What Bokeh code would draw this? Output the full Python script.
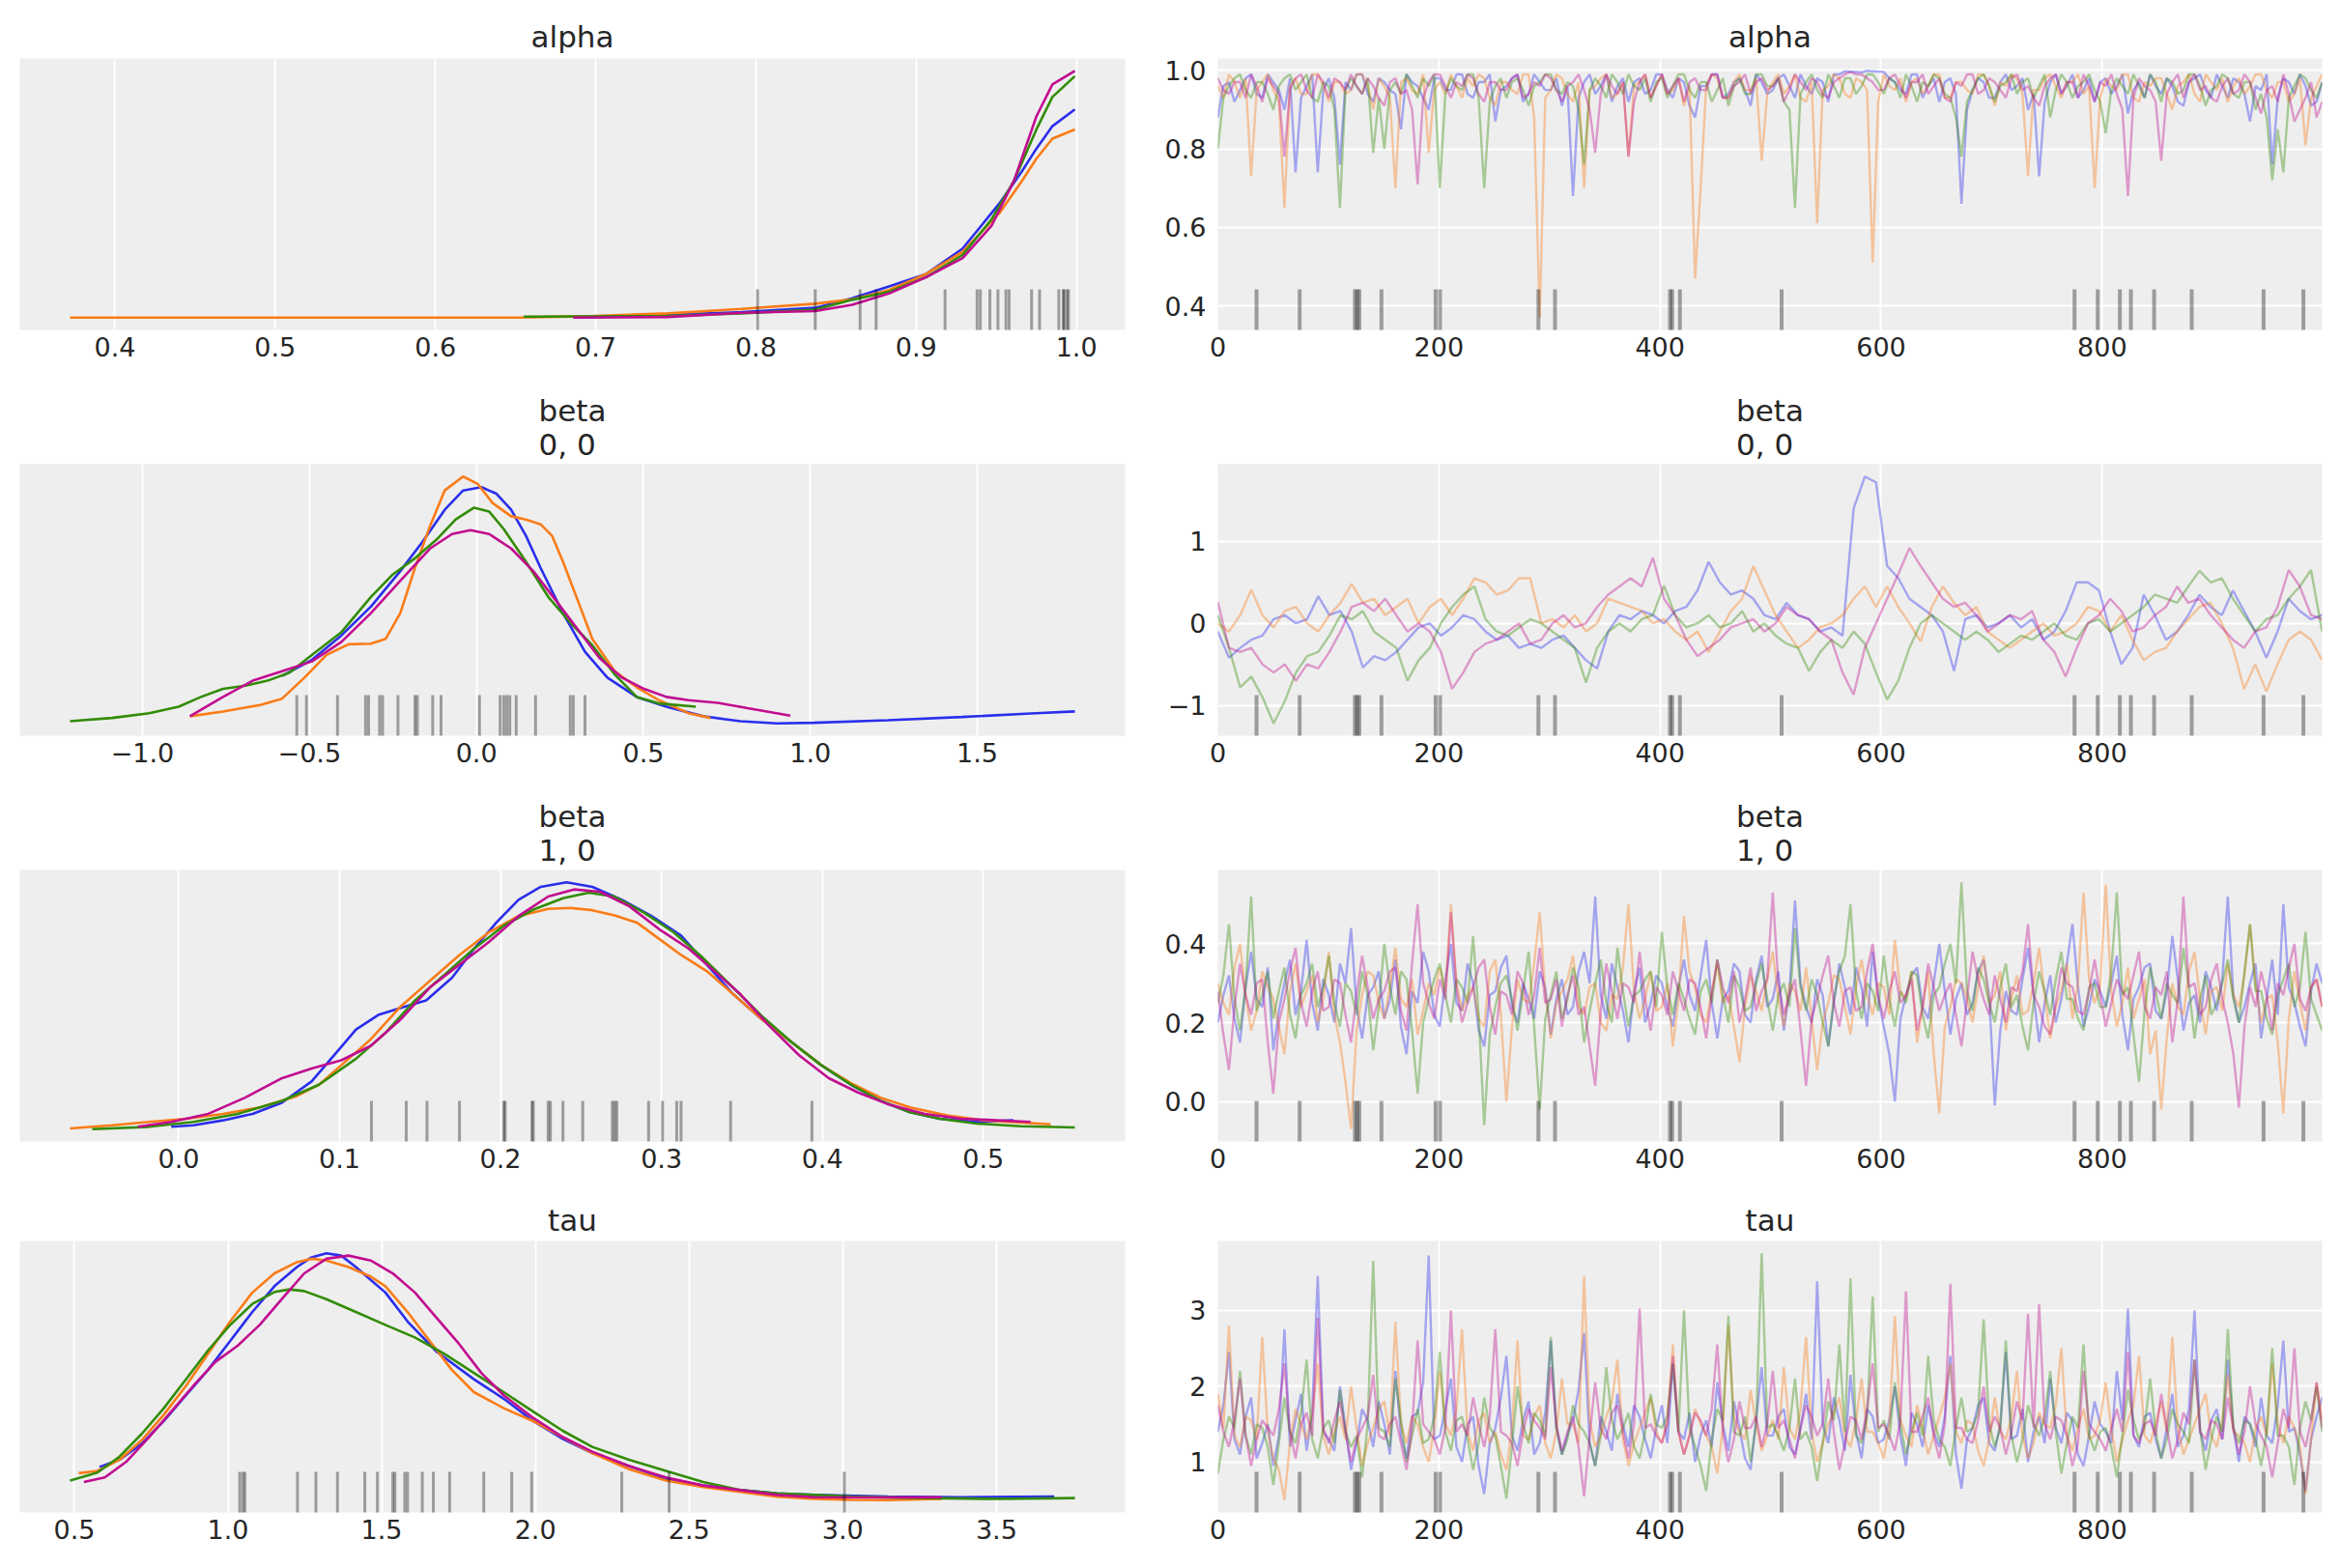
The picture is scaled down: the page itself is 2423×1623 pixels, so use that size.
import numpy as np
from bokeh.plotting import figure
from bokeh.layouts import gridplot
from bokeh.models import Range1d, FixedTicker, Title
from bokeh.embed import file_html
from bokeh.resources import INLINE

# ---------------------------------------------------------------- data ----
chain_colors = ["#2a2eec", "#fa7c17", "#328c06", "#c10c90"]
n_draws = 1000

# draws flagged as divergent (shown as a rug under every trace)
divergent_draws = [35, 74, 124, 126, 128, 148, 197, 201, 290, 305, 409, 411,
                   418, 510, 775, 796, 816, 826, 847, 881, 946, 982]

# --- alpha: per-chain KDE (x, density), divergent sample values, trace
alpha_kde_x = [
    [0.690, 0.791, 0.837, 0.860, 0.883, 0.906, 0.929, 0.952, 0.966, 0.975, 0.985, 0.999],
    [0.372, 0.652, 0.699, 0.745, 0.791, 0.837, 0.860, 0.883, 0.906, 0.929, 0.952, 0.966, 0.975, 0.985, 0.999],
    [0.655, 0.745, 0.791, 0.837, 0.860, 0.883, 0.906, 0.929, 0.947, 0.961, 0.975, 0.985, 0.999],
    [0.686, 0.745, 0.791, 0.837, 0.860, 0.883, 0.906, 0.929, 0.947, 0.961, 0.975, 0.985, 0.999],
]
alpha_kde_d = [
    [0.0, 0.35, 0.63, 1.25, 2.02, 2.82, 4.48, 7.41, 9.49, 10.95, 12.41, 13.5],
    [0.0, 0.0, 0.10, 0.27, 0.56, 0.90, 1.18, 1.78, 2.82, 4.27, 6.78, 8.86, 10.3, 11.6, 12.2],
    [0.06, 0.10, 0.27, 0.52, 1.15, 1.67, 2.61, 4.07, 6.36, 8.87, 12.2, 14.3, 15.65],
    [0.0, 0.04, 0.31, 0.42, 0.83, 1.56, 2.61, 3.86, 5.95, 8.87, 13.04, 15.12, 16.0],
]
alpha_divergent = [0.801, 0.837, 0.865, 0.875, 0.918, 0.938, 0.940, 0.946, 0.951,
                   0.956, 0.958, 0.972, 0.977, 0.989, 0.992, 0.992, 0.994, 0.995]
alpha_trace = [
    [0.88, 0.96, 0.97, 0.92, 0.95, 0.98, 0.99, 0.94, 0.93, 0.99, 0.97, 0.95, 0.90, 0.98, 0.74, 0.93, 0.96, 0.99, 0.74, 0.95,
     0.98, 0.93, 0.76, 0.97, 0.95, 0.99, 0.99, 0.94, 0.92, 0.98, 0.97, 0.95, 0.94, 0.85, 0.99, 0.97, 0.96, 0.93, 0.90, 0.98,
     0.98, 0.95, 0.95, 0.99, 0.99, 0.94, 0.93, 0.97, 0.97, 0.99, 0.87, 0.95, 0.96, 0.98, 0.99, 0.92, 0.94, 0.99, 0.97, 0.95,
     0.95, 0.98, 0.91, 0.96, 0.68, 0.93, 0.97, 0.99, 0.94, 0.96, 0.99, 0.92, 0.96, 0.98, 0.92, 0.97, 0.98, 0.94, 0.95, 0.99,
     0.99, 0.95, 0.93, 0.98, 0.97, 0.91, 0.88, 0.96, 0.96, 0.99, 0.99, 0.93, 0.94, 0.97, 0.98, 0.95, 0.91, 0.99, 0.97, 0.94,
     0.95, 0.98, 0.99, 0.96, 0.93, 0.99, 0.96, 0.94, 0.98, 0.97, 0.92, 0.99, 0.99, 0.998, 0.997, 0.996, 0.995, 0.999, 0.998, 0.997,
     0.996, 0.98, 0.97, 0.95, 0.94, 0.99, 0.99, 0.93, 0.96, 0.98, 0.92, 0.97, 0.98, 0.94, 0.66, 0.90, 0.95, 0.98, 0.97, 0.93,
     0.93, 0.97, 0.99, 0.95, 0.96, 0.98, 0.90, 0.94, 0.73, 0.92, 0.97, 0.99, 0.94, 0.96, 0.99, 0.93, 0.95, 0.98, 0.92, 0.97,
     0.98, 0.94, 0.96, 0.99, 0.89, 0.95, 0.97, 0.93, 0.99, 0.96, 0.94, 0.98, 0.96, 0.92, 0.91, 0.97, 0.98, 0.99, 0.95, 0.93,
     0.99, 0.96, 0.93, 0.98, 0.97, 0.94, 0.87, 0.96, 0.95, 0.99, 0.76, 0.93, 0.98, 0.97, 0.94, 0.99, 0.96, 0.91, 0.92, 0.97],
    [0.96, 0.93, 0.99, 0.97, 0.93, 0.98, 0.73, 0.95, 0.97, 0.99, 0.95, 0.92, 0.65, 0.96, 0.98, 0.94, 0.94, 0.99, 0.99, 0.96,
     0.92, 0.97, 0.97, 0.94, 0.95, 0.99, 0.99, 0.96, 0.90, 0.98, 0.96, 0.93, 0.70, 0.97, 0.98, 0.95, 0.94, 0.99, 0.79, 0.95,
     0.97, 0.94, 0.99, 0.96, 0.93, 0.98, 0.96, 0.99, 0.98, 0.93, 0.91, 0.97, 0.97, 0.95, 0.94, 0.99, 0.99, 0.88, 0.37, 0.93,
     0.95, 0.99, 0.98, 0.94, 0.92, 0.97, 0.70, 0.95, 0.96, 0.98, 0.99, 0.93, 0.94, 0.97, 0.78, 0.96, 0.97, 0.99, 0.93, 0.96,
     0.99, 0.94, 0.95, 0.98, 0.91, 0.96, 0.47, 0.70, 0.96, 0.99, 0.98, 0.93, 0.93, 0.97, 0.99, 0.95, 0.95, 0.98, 0.77, 0.94,
     0.97, 0.99, 0.94, 0.96, 0.99, 0.93, 0.92, 0.97, 0.61, 0.95, 0.96, 0.99, 0.98, 0.94, 0.93, 0.98, 0.97, 0.95, 0.51, 0.92,
     0.99, 0.96, 0.95, 0.98, 0.92, 0.97, 0.98, 0.94, 0.96, 0.99, 0.99, 0.93, 0.93, 0.97, 0.97, 0.95, 0.94, 0.99, 0.99, 0.96,
     0.91, 0.97, 0.96, 0.99, 0.98, 0.94, 0.73, 0.95, 0.95, 0.98, 0.99, 0.96, 0.93, 0.97, 0.97, 0.99, 0.94, 0.96, 0.70, 0.93,
     0.98, 0.96, 0.95, 0.99, 0.99, 0.93, 0.92, 0.97, 0.96, 0.98, 0.98, 0.94, 0.90, 0.96, 0.97, 0.99, 0.94, 0.92, 0.99, 0.97,
     0.95, 0.98, 0.92, 0.96, 0.98, 0.94, 0.96, 0.99, 0.99, 0.95, 0.93, 0.97, 0.97, 0.92, 0.94, 0.98, 0.81, 0.93, 0.96, 0.99],
    [0.80, 0.93, 0.96, 0.98, 0.99, 0.95, 0.93, 0.97, 0.97, 0.94, 0.90, 0.96, 0.98, 0.99, 0.95, 0.97, 0.99, 0.93, 0.92, 0.97,
     0.96, 0.90, 0.65, 0.95, 0.98, 0.96, 0.94, 0.98, 0.79, 0.93, 0.80, 0.95, 0.97, 0.94, 0.99, 0.96, 0.93, 0.98, 0.96, 0.99,
     0.70, 0.94, 0.98, 0.96, 0.95, 0.99, 0.99, 0.93, 0.70, 0.92, 0.96, 0.98, 0.93, 0.97, 0.98, 0.95, 0.91, 0.96, 0.97, 0.99,
     0.99, 0.95, 0.94, 0.97, 0.96, 0.90, 0.76, 0.95, 0.98, 0.96, 0.93, 0.99, 0.97, 0.94, 0.99, 0.96, 0.95, 0.98, 0.92, 0.97,
     0.98, 0.93, 0.96, 0.99, 0.99, 0.95, 0.93, 0.97, 0.97, 0.92, 0.95, 0.98, 0.91, 0.96, 0.98, 0.94, 0.94, 0.99, 0.99, 0.96,
     0.96, 0.98, 0.92, 0.90, 0.65, 0.94, 0.97, 0.99, 0.95, 0.93, 0.99, 0.96, 0.93, 0.98, 0.98, 0.94, 0.96, 0.99, 0.99, 0.97,
     0.94, 0.98, 0.97, 0.93, 0.99, 0.96, 0.92, 0.97, 0.96, 0.99, 0.98, 0.94, 0.93, 0.88, 0.78, 0.92, 0.95, 0.98, 0.99, 0.96,
     0.92, 0.96, 0.97, 0.99, 0.94, 0.97, 0.98, 0.93, 0.96, 0.99, 0.88, 0.95, 0.99, 0.97, 0.93, 0.96, 0.97, 0.99, 0.95, 0.92,
     0.84, 0.95, 0.98, 0.96, 0.94, 0.99, 0.96, 0.93, 0.99, 0.97, 0.92, 0.98, 0.97, 0.94, 0.95, 0.99, 0.99, 0.96, 0.91, 0.95,
     0.96, 0.99, 0.98, 0.94, 0.93, 0.97, 0.97, 0.90, 0.94, 0.88, 0.72, 0.85, 0.74, 0.93, 0.96, 0.99, 0.98, 0.95, 0.93, 0.97],
    [0.98, 0.95, 0.94, 0.97, 0.97, 0.93, 0.99, 0.96, 0.92, 0.98, 0.96, 0.94, 0.78, 0.95, 0.98, 0.99, 0.95, 0.93, 0.99, 0.97,
     0.93, 0.98, 0.97, 0.95, 0.99, 0.96, 0.94, 0.98, 0.96, 0.93, 0.91, 0.97, 0.98, 0.94, 0.95, 0.90, 0.71, 0.93, 0.97, 0.99,
     0.99, 0.96, 0.93, 0.97, 0.96, 0.99, 0.98, 0.94, 0.92, 0.97, 0.97, 0.95, 0.95, 0.98, 0.99, 0.93, 0.94, 0.97, 0.96, 0.99,
     0.98, 0.95, 0.92, 0.96, 0.97, 0.99, 0.95, 0.90, 0.79, 0.94, 0.99, 0.96, 0.94, 0.97, 0.78, 0.92, 0.97, 0.99, 0.93, 0.96,
     0.99, 0.94, 0.96, 0.98, 0.92, 0.97, 0.98, 0.95, 0.95, 0.99, 0.99, 0.93, 0.93, 0.96, 0.97, 0.99, 0.94, 0.97, 0.98, 0.95,
     0.96, 0.98, 0.92, 0.95, 0.99, 0.97, 0.95, 0.98, 0.97, 0.94, 0.93, 0.97, 0.98, 0.99, 0.996, 0.99, 0.99, 0.98, 0.97, 0.95,
     0.95, 0.98, 0.99, 0.96, 0.93, 0.97, 0.97, 0.99, 0.94, 0.96, 0.98, 0.93, 0.92, 0.97, 0.96, 0.99, 0.99, 0.94, 0.95, 0.98,
     0.97, 0.95, 0.93, 0.98, 0.99, 0.95, 0.96, 0.93, 0.91, 0.96, 0.98, 0.99, 0.94, 0.97, 0.97, 0.93, 0.99, 0.96, 0.92, 0.97,
     0.96, 0.99, 0.94, 0.90, 0.68, 0.93, 0.98, 0.96, 0.95, 0.92, 0.77, 0.94, 0.97, 0.99, 0.93, 0.97, 0.99, 0.95, 0.96, 0.93,
     0.92, 0.96, 0.98, 0.94, 0.95, 0.99, 0.97, 0.93, 0.89, 0.95, 0.96, 0.92, 0.99, 0.94, 0.87, 0.90, 0.93, 0.97, 0.88, 0.92],
]

# --- beta[0, 0]
beta0_kde_x = [
    [-0.582, -0.493, -0.405, -0.316, -0.228, -0.162, -0.095, -0.040, 0.015, 0.060, 0.104,
     0.148, 0.192, 0.259, 0.325, 0.392, 0.480, 0.569, 0.679, 0.790, 0.900, 1.011, 1.232,
     1.454, 1.675, 1.792],
    [-0.858, -0.759, -0.648, -0.582, -0.515, -0.449, -0.383, -0.316, -0.272, -0.228, -0.184,
     -0.139, -0.095, -0.040, 0.004, 0.049, 0.104, 0.148, 0.192, 0.226, 0.259, 0.303, 0.347,
     0.414, 0.480, 0.546, 0.635, 0.701],
    [-1.217, -1.091, -0.980, -0.892, -0.825, -0.759, -0.692, -0.626, -0.560, -0.493, -0.405,
     -0.316, -0.250, -0.184, -0.117, -0.062, -0.007, 0.038, 0.082, 0.148, 0.215, 0.281,
     0.347, 0.414, 0.480, 0.546, 0.657],
    [-0.858, -0.759, -0.670, -0.582, -0.493, -0.405, -0.316, -0.228, -0.139, -0.073, -0.018,
     0.038, 0.104, 0.170, 0.237, 0.303, 0.369, 0.436, 0.502, 0.569, 0.635, 0.723, 0.812, 0.940],
]
beta0_kde_d = [
    [0.311, 0.415, 0.572, 0.760, 0.990, 1.178, 1.387, 1.512, 1.533, 1.491, 1.387, 1.220,
     1.011, 0.718, 0.467, 0.300, 0.175, 0.112, 0.050, 0.018, 0.004, 0.008, 0.024, 0.045,
     0.070, 0.081],
    [0.050, 0.081, 0.123, 0.164, 0.300, 0.447, 0.516, 0.520, 0.551, 0.718, 1.011, 1.282,
     1.512, 1.602, 1.554, 1.429, 1.345, 1.324, 1.293, 1.220, 1.052, 0.802, 0.551, 0.342,
     0.238, 0.154, 0.070, 0.039],
    [0.018, 0.039, 0.070, 0.112, 0.175, 0.227, 0.248, 0.280, 0.332, 0.447, 0.593, 0.823,
     0.969, 1.073, 1.199, 1.324, 1.401, 1.376, 1.261, 1.052, 0.823, 0.656, 0.509, 0.321,
     0.175, 0.133, 0.112],
    [0.050, 0.175, 0.280, 0.342, 0.405, 0.530, 0.718, 0.927, 1.136, 1.230, 1.255, 1.230,
     1.136, 0.990, 0.802, 0.614, 0.426, 0.300, 0.227, 0.175, 0.154, 0.137, 0.102, 0.054],
]
beta0_divergent = [-0.538, -0.509, -0.416, -0.332, -0.323, -0.290, -0.281, -0.235, -0.184,
                   -0.177, -0.131, -0.106, 0.009, 0.071, 0.082, 0.091, 0.100, 0.119, 0.177,
                   0.281, 0.290, 0.325]
beta0_trace = [
    [-0.10, -0.42, -0.30, -0.20, -0.15, 0.05, 0.10, 0.00, 0.05, 0.33,
     0.10, 0.15, -0.10, -0.54, -0.40, -0.45, -0.35, -0.20, -0.05, 0.00,
     -0.15, -0.05, 0.10, 0.05, -0.10, -0.20, -0.15, -0.30, -0.25, -0.30,
     -0.20, -0.15, -0.30, -0.45, -0.55, -0.10, 0.10, 0.05, 0.15, 0.10,
     0.00, 0.15, 0.20, 0.40, 0.75, 0.50, 0.35, 0.40, 0.30, 0.10,
     0.05, 0.25, 0.10, 0.05, -0.10, -0.05, -0.15, 1.40, 1.79, 1.72,
     0.70, 0.55, 0.30, 0.20, 0.10, -0.10, -0.58, 0.05, 0.10, -0.05,
     0.00, 0.10, -0.05, 0.05, -0.20, -0.10, 0.15, 0.50, 0.50, 0.40,
     -0.10, -0.50, -0.30, 0.35, 0.10, -0.20, -0.10, 0.10, 0.35, 0.20,
     0.10, 0.40, 0.15, -0.10, -0.42, -0.10, 0.30, 0.15, 0.05, 0.10],
    [0.00, -0.10, 0.10, 0.41, 0.10, -0.05, 0.15, 0.20, 0.00, -0.10,
     0.10, 0.25, 0.48, 0.25, 0.30, 0.10, 0.20, 0.30, 0.00, 0.20,
     0.30, 0.10, 0.30, 0.55, 0.50, 0.35, 0.40, 0.55, 0.55, 0.00,
     0.05, -0.05, 0.10, -0.10, 0.00, 0.30, 0.25, 0.20, 0.15, 0.00,
     0.05, -0.10, -0.20, -0.10, -0.35, -0.10, 0.15, 0.30, 0.70, 0.40,
     0.10, -0.10, -0.30, -0.20, -0.05, 0.00, 0.10, 0.30, 0.45, 0.20,
     0.45, 0.20, 0.00, -0.22, 0.20, 0.45, 0.25, 0.10, 0.20, -0.10,
     -0.20, -0.30, -0.20, -0.10, 0.00, -0.15, -0.10, 0.00, 0.20, 0.15,
     -0.10, 0.10, -0.20, -0.45, -0.35, -0.30, -0.10, 0.05, 0.20, 0.25,
     0.00, -0.30, -0.80, -0.50, -0.83, -0.50, -0.20, -0.10, -0.20, -0.45],
    [0.10, -0.30, -0.78, -0.65, -0.90, -1.22, -0.95, -0.60, -0.40, -0.35,
     -0.15, 0.10, 0.05, 0.15, -0.10, -0.20, -0.30, -0.70, -0.45, -0.30,
     0.00, 0.20, 0.35, 0.45, 0.05, -0.10, -0.15, -0.05, 0.05, 0.00,
     -0.10, -0.20, -0.30, -0.72, -0.30, -0.10, 0.00, -0.10, 0.05, 0.10,
     0.46, 0.10, -0.05, 0.00, 0.10, -0.05, 0.00, 0.15, -0.10, 0.00,
     -0.15, -0.25, -0.30, -0.58, -0.35, -0.20, -0.30, -0.10, -0.25, -0.60,
     -0.93, -0.70, -0.30, 0.00, 0.10, 0.00, -0.10, -0.20, -0.10, -0.20,
     -0.35, -0.25, -0.15, -0.20, -0.10, 0.00, -0.15, -0.20, 0.00, 0.05,
     -0.10, 0.00, 0.10, 0.20, 0.35, 0.30, 0.25, 0.45, 0.64, 0.50,
     0.55, 0.30, 0.10, -0.10, 0.05, 0.10, 0.30, 0.45, 0.65, -0.10],
    [0.26, -0.30, -0.35, -0.30, -0.50, -0.60, -0.50, -0.70, -0.50, -0.55,
     -0.35, -0.10, 0.20, 0.25, 0.15, 0.30, 0.10, -0.10, 0.00, -0.10,
     -0.35, -0.80, -0.60, -0.35, -0.25, -0.20, -0.10, 0.00, -0.25, -0.20,
     0.00, 0.10, -0.05, 0.00, 0.20, 0.35, 0.45, 0.55, 0.45, 0.80,
     0.30, 0.10, -0.20, -0.40, -0.30, -0.20, -0.05, 0.00, 0.05, -0.10,
     0.00, 0.20, 0.10, 0.05, -0.10, -0.20, -0.60, -0.87, -0.30, 0.00,
     0.30, 0.60, 0.92, 0.70, 0.50, 0.30, 0.20, 0.25, 0.10, -0.10,
     0.00, 0.10, 0.05, 0.15, -0.20, -0.35, -0.65, -0.30, 0.00, 0.10,
     0.30, 0.15, -0.10, -0.05, 0.10, 0.20, 0.45, 0.25, 0.30, 0.10,
     -0.05, -0.20, -0.30, -0.10, -0.05, 0.20, 0.65, 0.45, 0.10, 0.05],
]

# --- beta[1, 0]
beta1_kde_x = [
    [-0.0046, 0.0092, 0.0275, 0.0459, 0.0643, 0.0826, 0.0964, 0.1102, 0.1240, 0.1400, 0.1538,
     0.1699, 0.1837, 0.1974, 0.2112, 0.2250, 0.2410, 0.2571, 0.2755, 0.2938, 0.3122, 0.3283,
     0.3444, 0.3627, 0.3811, 0.3994, 0.4178, 0.4362, 0.4545, 0.4729, 0.4959, 0.5188],
    [-0.0675, -0.0413, -0.0184, 0.0046, 0.0275, 0.0505, 0.0735, 0.0872, 0.1010, 0.1194, 0.1377,
     0.1561, 0.1745, 0.1928, 0.2112, 0.2296, 0.2433, 0.2571, 0.2709, 0.2847, 0.2984, 0.3122,
     0.3283, 0.3444, 0.3627, 0.3811, 0.3994, 0.4178, 0.4362, 0.4545, 0.4775, 0.5005, 0.5418],
    [-0.0537, -0.0184, 0.0092, 0.0367, 0.0643, 0.0872, 0.1102, 0.1286, 0.1469, 0.1653, 0.1837,
     0.2020, 0.2204, 0.2388, 0.2548, 0.2709, 0.2893, 0.3076, 0.3260, 0.3444, 0.3627, 0.3811,
     0.3994, 0.4178, 0.4362, 0.4545, 0.4729, 0.4959, 0.5234, 0.5569],
    [-0.0253, -0.0046, 0.0184, 0.0413, 0.0643, 0.0826, 0.1010, 0.1194, 0.1377, 0.1561, 0.1745,
     0.1928, 0.2112, 0.2296, 0.2456, 0.2617, 0.2801, 0.2984, 0.3168, 0.3306, 0.3489, 0.3673,
     0.3857, 0.4040, 0.4224, 0.4408, 0.4637, 0.4867, 0.5294],
]
beta1_kde_d = [
    [0.079, 0.107, 0.193, 0.308, 0.508, 0.881, 1.339, 1.798, 2.056, 2.199, 2.314, 2.715,
     3.231, 3.689, 4.090, 4.320, 4.400, 4.320, 4.090, 3.804, 3.460, 2.944, 2.428, 1.970,
     1.569, 1.167, 0.823, 0.537, 0.336, 0.222, 0.164, 0.193],
    [0.050, 0.107, 0.165, 0.222, 0.308, 0.422, 0.623, 0.824, 1.167, 1.626, 2.199, 2.657,
     3.116, 3.517, 3.804, 3.930, 3.947, 3.907, 3.815, 3.689, 3.403, 3.116, 2.829, 2.428,
     1.970, 1.569, 1.167, 0.852, 0.594, 0.422, 0.279, 0.193, 0.124],
    [0.038, 0.079, 0.165, 0.308, 0.537, 0.824, 1.282, 1.741, 2.314, 2.772, 3.231, 3.632,
     3.918, 4.119, 4.216, 4.148, 3.861, 3.517, 3.059, 2.543, 2.027, 1.569, 1.167, 0.824,
     0.537, 0.336, 0.222, 0.136, 0.090, 0.067],
    [0.079, 0.165, 0.308, 0.594, 0.939, 1.110, 1.254, 1.511, 1.970, 2.543, 2.944, 3.345,
     3.804, 4.148, 4.274, 4.234, 3.976, 3.575, 3.231, 2.887, 2.428, 1.855, 1.339, 0.939,
     0.682, 0.479, 0.308, 0.222, 0.165],
]
beta1_divergent = [0.1198, 0.1414, 0.1543, 0.1745, 0.2020, 0.2029, 0.2195, 0.2204, 0.2296,
                   0.2310, 0.2388, 0.2511, 0.2695, 0.2709, 0.2723, 0.2920, 0.3007, 0.3095,
                   0.3122, 0.3430, 0.3935]
beta1_trace = [
    [0.20, 0.27, 0.32, 0.21, 0.15, 0.29, 0.38, 0.26, 0.24, 0.34, 0.13, 0.23, 0.30, 0.36, 0.22, 0.28, 0.41, 0.25, 0.18, 0.31,
     0.27, 0.20, 0.35, 0.30, 0.44, 0.24, 0.16, 0.27, 0.29, 0.33, 0.21, 0.26, 0.36, 0.19, 0.12, 0.28, 0.25, 0.38, 0.33, 0.22,
     0.19, 0.31, 0.40, 0.25, 0.23, 0.35, 0.30, 0.18, 0.14, 0.27, 0.28, 0.34, 0.37, 0.24, 0.20, 0.30, 0.26, 0.21, 0.33, 0.29,
     0.17, 0.26, 0.31, 0.22, 0.24, 0.33, 0.38, 0.30, 0.52, 0.27, 0.21, 0.35, 0.29, 0.23, 0.15, 0.28, 0.34, 0.20, 0.25, 0.32,
     0.30, 0.24, 0.19, 0.29, 0.36, 0.27, 0.23, 0.32, 0.41, 0.25, 0.16, 0.26, 0.28, 0.35, 0.33, 0.22, 0.20, 0.31, 0.37, 0.24,
     0.26, 0.33, 0.18, 0.28, 0.51, 0.30, 0.24, 0.20, 0.31, 0.27, 0.14, 0.25, 0.35, 0.29, 0.22, 0.34, 0.29, 0.19, 0.38, 0.26,
     0.19, 0.12, 0.00, 0.21, 0.27, 0.32, 0.34, 0.24, 0.21, 0.30, 0.40, 0.28, 0.17, 0.26, 0.30, 0.22, 0.25, 0.33, 0.36, 0.27,
     -0.01, 0.18, 0.28, 0.23, 0.22, 0.31, 0.39, 0.27, 0.15, 0.25, 0.32, 0.20, 0.26, 0.35, 0.45, 0.29, 0.19, 0.24, 0.31, 0.28,
     0.24, 0.30, 0.37, 0.22, 0.13, 0.26, 0.29, 0.34, 0.35, 0.23, 0.21, 0.28, 0.42, 0.31, 0.18, 0.25, 0.27, 0.20, 0.33, 0.29,
     0.23, 0.31, 0.52, 0.27, 0.20, 0.24, 0.30, 0.35, 0.16, 0.26, 0.36, 0.22, 0.50, 0.29, 0.25, 0.19, 0.14, 0.28, 0.35, 0.30],
    [0.30, 0.25, 0.22, 0.34, 0.40, 0.27, 0.18, 0.23, 0.33, 0.29, 0.26, 0.19, 0.12, 0.28, 0.35, 0.24, 0.28, 0.32, 0.20, 0.26,
     0.38, 0.22, 0.15, 0.05, -0.07, 0.18, 0.27, 0.33, 0.32, 0.25, 0.21, 0.29, 0.39, 0.26, 0.24, 0.31, 0.17, 0.23, 0.30, 0.27,
     0.34, 0.28, 0.50, 0.30, 0.23, 0.27, 0.29, 0.21, 0.19, 0.33, 0.36, 0.22, 0.00, 0.19, 0.31, 0.26, 0.25, 0.35, 0.48, 0.28,
     0.16, 0.25, 0.28, 0.31, 0.37, 0.24, 0.22, 0.29, 0.30, 0.20, 0.18, 0.27, 0.26, 0.34, 0.50, 0.28, 0.21, 0.26, 0.33, 0.23,
     0.24, 0.30, 0.14, 0.26, 0.47, 0.33, 0.29, 0.22, 0.20, 0.28, 0.35, 0.25, 0.27, 0.19, 0.10, 0.24, 0.32, 0.28, 0.23, 0.31,
     0.38, 0.26, 0.19, 0.30, 0.28, 0.23, 0.34, 0.21, 0.08, 0.20, 0.25, 0.32, 0.31, 0.24, 0.17, 0.29, 0.36, 0.27, 0.22, 0.30,
     0.29, 0.22, 0.41, 0.28, 0.26, 0.33, 0.15, 0.24, 0.33, 0.12, -0.03, 0.19, 0.24, 0.31, 0.30, 0.26, 0.20, 0.29, 0.37, 0.25,
     0.27, 0.33, 0.18, 0.26, 0.32, 0.22, 0.23, 0.30, 0.39, 0.27, 0.16, 0.24, 0.28, 0.35, 0.21, 0.30, 0.53, 0.31, 0.25, 0.29,
     0.55, 0.28, 0.19, 0.25, 0.34, 0.21, 0.26, 0.31, 0.12, 0.18, -0.02, 0.16, 0.30, 0.24, 0.22, 0.33, 0.38, 0.26, 0.17, 0.28,
     0.29, 0.23, 0.35, 0.27, 0.24, 0.32, 0.45, 0.30, 0.20, 0.26, 0.27, 0.15, -0.03, 0.21, 0.33, 0.25, 0.18, 0.29, 0.31, 0.24],
    [0.25, 0.32, 0.45, 0.26, 0.18, 0.29, 0.52, 0.23, 0.27, 0.33, 0.21, 0.28, 0.34, 0.22, 0.16, 0.27, 0.30, 0.35, 0.24, 0.29,
     0.37, 0.25, 0.19, 0.30, 0.28, 0.22, 0.33, 0.27, 0.13, 0.24, 0.40, 0.29, 0.22, 0.33, 0.31, 0.18, 0.02, 0.20, 0.26, 0.31,
     0.35, 0.27, 0.20, 0.31, 0.29, 0.25, 0.42, 0.22, -0.06, 0.17, 0.24, 0.30, 0.32, 0.26, 0.18, 0.28, 0.38, 0.19, -0.02, 0.21,
     0.27, 0.33, 0.21, 0.26, 0.34, 0.29, 0.15, 0.23, 0.30, 0.36, 0.25, 0.20, 0.39, 0.28, 0.19, 0.27, 0.28, 0.31, 0.33, 0.24,
     0.43, 0.29, 0.22, 0.30, 0.26, 0.21, 0.17, 0.28, 0.31, 0.25, 0.36, 0.27, 0.20, 0.32, 0.29, 0.23, 0.24, 0.30, 0.35, 0.26,
     0.18, 0.27, 0.30, 0.24, 0.44, 0.29, 0.23, 0.31, 0.27, 0.20, 0.14, 0.26, 0.33, 0.37, 0.50, 0.28, 0.21, 0.30, 0.28, 0.23,
     0.37, 0.26, 0.19, 0.28, 0.25, 0.33, 0.32, 0.22, 0.16, 0.27, 0.29, 0.35, 0.40, 0.30, 0.556, 0.28, 0.23, 0.34, 0.31, 0.25,
     0.20, 0.29, 0.35, 0.24, 0.27, 0.19, 0.13, 0.25, 0.33, 0.28, 0.22, 0.31, 0.38, 0.26, 0.26, 0.21, 0.18, 0.29, 0.30, 0.24,
     0.24, 0.33, 0.53, 0.27, 0.29, 0.17, 0.05, 0.23, 0.34, 0.28, 0.21, 0.30, 0.27, 0.25, 0.39, 0.29, 0.16, 0.26, 0.32, 0.22,
     0.25, 0.30, 0.36, 0.26, 0.20, 0.33, 0.45, 0.28, 0.28, 0.21, 0.17, 0.27, 0.31, 0.35, 0.24, 0.29, 0.43, 0.26, 0.22, 0.18],
    [0.28, 0.17, 0.08, 0.24, 0.35, 0.27, 0.22, 0.30, 0.31, 0.15, 0.02, 0.20, 0.26, 0.33, 0.39, 0.25, 0.19, 0.28, 0.33, 0.23,
     0.24, 0.31, 0.30, 0.22, 0.15, 0.27, 0.37, 0.29, 0.21, 0.26, 0.28, 0.33, 0.34, 0.23, 0.18, 0.35, 0.50, 0.30, 0.25, 0.21,
     0.31, 0.26, 0.48, 0.29, 0.20, 0.25, 0.29, 0.34, 0.36, 0.24, 0.17, 0.28, 0.27, 0.22, 0.33, 0.30, 0.22, 0.27, 0.39, 0.25,
     0.26, 0.31, 0.19, 0.27, 0.32, 0.22, 0.24, 0.14, 0.04, 0.23, 0.35, 0.28, 0.21, 0.30, 0.29, 0.25, 0.38, 0.26, 0.18, 0.29,
     0.27, 0.22, 0.33, 0.28, 0.23, 0.31, 0.30, 0.24, 0.16, 0.27, 0.36, 0.29, 0.25, 0.33, 0.20, 0.26, 0.34, 0.23, 0.28, 0.31,
     0.53, 0.30, 0.22, 0.27, 0.31, 0.18, 0.04, 0.21, 0.26, 0.32, 0.37, 0.25, 0.19, 0.28, 0.29, 0.23, 0.24, 0.33, 0.40, 0.27,
     0.21, 0.28, 0.33, 0.25, 0.27, 0.31, 0.18, 0.24, 0.35, 0.29, 0.23, 0.27, 0.30, 0.22, 0.14, 0.26, 0.38, 0.31, 0.26, 0.22,
     0.32, 0.26, 0.20, 0.29, 0.28, 0.33, 0.45, 0.27, 0.24, 0.19, 0.17, 0.25, 0.34, 0.30, 0.29, 0.23, 0.22, 0.28, 0.36, 0.27,
     0.19, 0.25, 0.31, 0.28, 0.26, 0.32, 0.38, 0.24, 0.21, 0.29, 0.27, 0.33, 0.15, 0.26, 0.52, 0.29, 0.30, 0.22, 0.24, 0.31,
     0.35, 0.26, 0.20, 0.12, -0.015, 0.19, 0.29, 0.24, 0.33, 0.27, 0.18, 0.30, 0.27, 0.34, 0.40, 0.26, 0.23, 0.29, 0.31, 0.24],
]

# --- tau
tau_kde_x = [
    [0.582, 0.647, 0.719, 0.791, 0.863, 0.935, 1.007, 1.079, 1.151, 1.224, 1.272, 1.320,
     1.368, 1.416, 1.464, 1.512, 1.584, 1.680, 1.800, 1.897, 1.993, 2.089, 2.185, 2.305,
     2.425, 2.546, 2.666, 2.786, 2.906, 3.147, 3.387, 3.688],
    [0.514, 0.575, 0.647, 0.719, 0.791, 0.863, 0.935, 1.007, 1.079, 1.151, 1.224, 1.272,
     1.320, 1.392, 1.464, 1.512, 1.584, 1.656, 1.728, 1.800, 1.897, 1.993, 2.089, 2.185,
     2.305, 2.425, 2.546, 2.666, 2.786, 2.906, 3.026, 3.147, 3.322],
    [0.486, 0.575, 0.647, 0.719, 0.791, 0.863, 0.935, 1.007, 1.079, 1.151, 1.200, 1.248,
     1.320, 1.416, 1.512, 1.608, 1.704, 1.800, 1.897, 1.993, 2.089, 2.185, 2.305, 2.425,
     2.546, 2.666, 2.786, 2.906, 3.026, 3.267, 3.507, 3.755],
    [0.531, 0.599, 0.671, 0.743, 0.815, 0.887, 0.959, 1.031, 1.103, 1.175, 1.248, 1.320,
     1.392, 1.464, 1.536, 1.608, 1.680, 1.752, 1.824, 1.897, 1.993, 2.089, 2.185, 2.305,
     2.425, 2.546, 2.666, 2.786, 2.906, 3.147, 3.322],
]
tau_kde_d = [
    [0.117, 0.142, 0.198, 0.277, 0.367, 0.456, 0.557, 0.658, 0.748, 0.815, 0.849, 0.863,
     0.855, 0.815, 0.770, 0.726, 0.625, 0.518, 0.423, 0.355, 0.277, 0.215, 0.165, 0.120,
     0.075, 0.052, 0.036, 0.024, 0.019, 0.013, 0.011, 0.013],
    [0.095, 0.103, 0.142, 0.210, 0.299, 0.400, 0.512, 0.625, 0.726, 0.793, 0.832, 0.844,
     0.838, 0.815, 0.782, 0.748, 0.658, 0.557, 0.456, 0.378, 0.322, 0.277, 0.221, 0.165,
     0.109, 0.069, 0.047, 0.030, 0.013, 0.005, 0.002, 0.001, 0.005],
    [0.069, 0.097, 0.153, 0.232, 0.322, 0.423, 0.524, 0.613, 0.686, 0.728, 0.737, 0.731,
     0.703, 0.658, 0.613, 0.569, 0.512, 0.445, 0.378, 0.310, 0.243, 0.187, 0.142, 0.103,
     0.064, 0.036, 0.024, 0.019, 0.013, 0.008, 0.005, 0.008],
    [0.064, 0.080, 0.137, 0.221, 0.310, 0.400, 0.484, 0.540, 0.613, 0.703, 0.793, 0.844,
     0.855, 0.838, 0.793, 0.726, 0.636, 0.546, 0.445, 0.367, 0.288, 0.221, 0.170, 0.120,
     0.080, 0.052, 0.036, 0.019, 0.011, 0.010, 0.011],
]
tau_divergent = [1.038, 1.048, 1.055, 1.226, 1.286, 1.356, 1.445, 1.486, 1.536, 1.543, 1.575,
                 1.584, 1.632, 1.668, 1.721, 1.832, 1.923, 1.988, 2.281, 2.435, 3.005]
tau_trace = [
    [1.40, 1.75, 2.45, 1.30, 1.10, 1.60, 1.85, 1.05, 1.25, 1.50, 0.95, 1.35, 2.75, 1.20, 1.55, 1.90, 1.15, 1.65, 3.45, 1.40,
     1.30, 1.15, 2.00, 1.45, 0.90, 1.25, 1.70, 1.55, 1.20, 1.80, 1.50, 1.10, 2.20, 1.35, 1.05, 1.60, 1.65, 2.05, 3.72, 1.30,
     1.35, 1.70, 2.10, 1.20, 1.00, 1.50, 1.60, 0.95, 0.58, 1.25, 1.45, 1.85, 2.40, 1.35, 1.15, 1.55, 1.80, 1.10, 1.25, 1.65,
     2.60, 1.45, 1.10, 1.35, 1.55, 1.95, 2.70, 1.25, 0.95, 1.60, 1.40, 1.15, 1.90, 1.50, 1.20, 1.75, 1.60, 1.30, 1.05, 1.45,
     1.75, 1.25, 2.30, 1.40, 1.30, 1.65, 1.00, 1.35, 1.55, 1.20, 2.05, 1.50, 1.15, 1.80, 1.45, 1.05, 0.90, 1.55, 2.25, 1.35,
     1.35, 1.60, 1.70, 1.20, 1.10, 1.45, 1.90, 1.30, 3.38, 1.50, 1.25, 1.85, 1.55, 1.15, 2.15, 1.40, 1.05, 1.70, 1.60, 1.25,
     1.30, 1.55, 2.00, 1.35, 0.95, 1.65, 1.50, 1.20, 1.75, 1.40, 1.20, 1.60, 2.40, 1.10, 0.65, 1.30, 1.45, 1.75, 1.85, 1.25,
     1.15, 1.50, 2.45, 1.30, 1.35, 1.70, 1.00, 1.40, 1.60, 1.25, 2.10, 1.45, 1.25, 1.65, 1.55, 1.10, 0.95, 1.35, 1.80, 1.50,
     1.40, 1.25, 2.20, 1.55, 3.02, 1.35, 1.20, 1.60, 1.65, 1.30, 1.05, 1.45, 1.90, 1.20, 1.35, 1.70, 3.00, 1.40, 1.15, 1.55,
     1.70, 1.30, 2.35, 1.45, 1.00, 1.60, 1.50, 1.20, 1.85, 1.35, 1.25, 1.75, 2.60, 1.40, 1.45, 1.10, 0.62, 1.30, 1.60, 1.85],
    [1.90, 1.45, 2.80, 1.35, 1.20, 1.60, 1.55, 1.30, 2.65, 1.40, 1.05, 0.90, 0.50, 1.25, 1.70, 1.50, 1.30, 1.65, 2.30, 1.35,
     1.10, 1.40, 1.60, 1.30, 2.00, 1.45, 0.95, 1.25, 1.45, 1.70, 1.80, 1.35, 2.85, 1.50, 1.25, 1.60, 1.50, 1.20, 1.00, 1.45,
     2.20, 1.50, 1.35, 1.70, 2.75, 1.40, 1.15, 1.55, 1.65, 1.25, 1.40, 1.10, 0.90, 1.45, 2.60, 1.35, 1.30, 1.60, 1.75, 1.25,
     1.05, 1.40, 2.10, 1.50, 1.50, 1.25, 3.45, 1.55, 1.20, 1.35, 1.60, 1.80, 2.35, 1.30, 0.95, 1.25, 1.45, 1.65, 1.85, 1.40,
     1.25, 1.55, 2.55, 1.40, 1.10, 1.35, 1.70, 1.50, 1.35, 1.20, 0.85, 1.45, 2.80, 1.60, 1.40, 1.30, 1.95, 1.50, 1.15, 1.35,
     1.55, 1.30, 2.25, 1.45, 1.30, 1.70, 2.65, 1.40, 1.00, 1.25, 1.50, 1.65, 1.85, 1.35, 1.20, 1.55, 2.10, 1.40, 1.40, 1.25,
     1.05, 1.50, 2.92, 1.55, 1.35, 1.20, 1.75, 1.45, 1.10, 1.35, 1.60, 1.85, 2.30, 1.40, 1.25, 1.55, 1.50, 1.15, 0.95, 1.30,
     1.85, 1.40, 1.30, 1.60, 2.20, 1.35, 1.05, 1.25, 1.65, 1.50, 1.45, 1.75, 2.50, 1.35, 1.15, 1.45, 1.70, 1.30, 1.35, 1.55,
     2.05, 1.45, 1.00, 1.30, 1.55, 1.75, 2.40, 1.35, 1.25, 1.50, 1.80, 1.40, 2.65, 1.45, 1.10, 1.30, 1.50, 1.70, 1.90, 1.35,
     1.20, 1.55, 2.15, 1.40, 1.35, 1.25, 1.00, 1.45, 1.60, 1.35, 2.30, 1.50, 1.25, 1.60, 1.45, 1.20, 0.58, 1.30, 2.05, 1.55],
    [0.85, 1.30, 1.60, 1.45, 2.20, 1.35, 1.10, 1.50, 1.45, 1.20, 0.70, 1.25, 1.85, 1.40, 1.25, 1.65, 2.35, 1.30, 1.05, 1.45,
     1.55, 1.25, 1.95, 1.40, 1.20, 1.35, 0.80, 1.50, 3.65, 1.45, 1.40, 1.20, 2.10, 1.55, 1.00, 1.35, 1.70, 1.25, 1.30, 1.60,
     2.45, 1.40, 1.15, 1.55, 1.60, 1.30, 0.90, 1.25, 1.85, 1.45, 1.35, 0.95, 0.52, 1.20, 2.00, 1.50, 1.25, 1.65, 1.55, 1.35,
     2.65, 1.45, 1.10, 1.30, 1.75, 1.50, 1.40, 1.25, 0.95, 1.35, 2.25, 1.55, 1.30, 1.45, 1.65, 1.20, 1.05, 1.40, 1.90, 1.50,
     1.45, 1.60, 2.30, 1.40, 3.00, 1.45, 1.20, 0.95, 0.62, 1.30, 1.70, 1.55, 2.93, 1.40, 1.35, 1.60, 1.00, 1.50, 3.75, 1.45,
     1.50, 1.35, 1.15, 1.45, 2.10, 1.30, 1.40, 1.20, 0.75, 1.25, 1.80, 1.55, 2.55, 1.40, 3.42, 1.35, 1.25, 1.60, 3.18, 1.40,
     1.55, 1.30, 2.05, 1.50, 1.10, 1.40, 1.65, 1.35, 2.40, 1.55, 1.30, 1.20, 0.95, 1.45, 1.85, 1.40, 1.45, 1.65, 2.88, 1.50,
     1.20, 1.45, 2.60, 1.35, 1.00, 1.30, 1.75, 1.50, 1.35, 1.60, 2.20, 1.40, 0.85, 1.25, 1.60, 1.45, 2.55, 1.35, 1.15, 1.40,
     1.45, 1.20, 0.80, 1.35, 1.95, 1.55, 1.30, 1.45, 2.10, 1.40, 1.05, 1.30, 1.70, 1.50, 1.40, 1.25, 2.35, 1.45, 0.90, 1.30,
     1.60, 1.40, 2.75, 1.45, 1.25, 1.55, 1.50, 1.30, 0.95, 1.40, 2.50, 1.35, 1.35, 1.20, 0.70, 1.45, 1.80, 1.55, 2.00, 1.40],
    [1.75, 1.40, 1.20, 1.55, 2.10, 1.35, 0.95, 1.30, 1.55, 1.45, 1.35, 1.70, 2.30, 1.40, 1.05, 1.50, 1.65, 1.35, 2.90, 1.45,
     1.25, 1.55, 1.80, 1.40, 1.00, 1.30, 1.45, 1.60, 2.15, 1.35, 1.30, 1.50, 1.60, 1.25, 0.90, 1.45, 2.60, 1.50, 1.40, 1.30,
     1.10, 1.45, 3.00, 1.40, 1.50, 1.35, 1.85, 1.50, 1.20, 1.60, 2.75, 1.40, 1.35, 1.25, 0.95, 1.40, 1.70, 1.55, 1.45, 1.30,
     2.25, 1.50, 1.15, 1.40, 1.60, 1.20, 0.55, 1.35, 2.05, 1.45, 1.30, 1.65, 1.75, 1.40, 1.05, 1.50, 3.02, 1.45, 1.50, 1.35,
     1.25, 1.50, 2.40, 1.40, 1.10, 1.35, 1.65, 1.55, 1.35, 1.70, 2.55, 1.40, 1.00, 1.30, 1.80, 1.45, 1.45, 1.60, 1.20, 1.50,
     2.20, 1.45, 1.55, 1.30, 1.05, 1.45, 1.75, 1.60, 1.35, 1.50, 2.10, 1.40, 0.90, 1.25, 1.60, 1.55, 1.30, 1.70, 2.30, 1.45,
     1.50, 1.35, 1.15, 1.55, 3.25, 1.40, 1.40, 1.60, 1.85, 1.35, 1.05, 1.50, 3.35, 1.45, 1.45, 1.30, 1.25, 1.55, 2.00, 1.40,
     1.60, 1.45, 1.10, 1.40, 1.80, 1.55, 2.95, 1.45, 3.08, 1.50, 1.30, 1.60, 1.55, 1.35, 0.95, 1.25, 2.20, 1.50, 1.40, 1.30,
     1.15, 1.45, 1.70, 1.40, 2.45, 1.35, 1.25, 1.50, 1.55, 1.35, 1.90, 1.45, 1.05, 1.30, 1.65, 1.50, 2.35, 1.40, 1.30, 1.55,
     1.50, 1.30, 1.85, 1.45, 1.10, 1.40, 2.00, 1.50, 1.35, 1.20, 0.80, 1.25, 1.70, 1.45, 2.50, 1.40, 1.20, 1.55, 2.05, 1.45],
]

# tick positions and their printed labels
alpha_kde_ticks = [0.4, 0.5, 0.6, 0.7, 0.8, 0.9, 1.0]
alpha_kde_labels = ["0.4", "0.5", "0.6", "0.7", "0.8", "0.9", "1.0"]
beta0_kde_ticks = [-1.0, -0.5, 0.0, 0.5, 1.0, 1.5]
beta0_kde_labels = ["\u22121.0", "\u22120.5", "0.0", "0.5", "1.0", "1.5"]
beta1_kde_ticks = [0.0, 0.1, 0.2, 0.3, 0.4, 0.5]
beta1_kde_labels = ["0.0", "0.1", "0.2", "0.3", "0.4", "0.5"]
tau_kde_ticks = [0.5, 1.0, 1.5, 2.0, 2.5, 3.0, 3.5]
tau_kde_labels = ["0.5", "1.0", "1.5", "2.0", "2.5", "3.0", "3.5"]

draw_ticks = [0, 200, 400, 600, 800]
draw_labels = ["0", "200", "400", "600", "800"]
alpha_trace_ticks = [0.4, 0.6, 0.8, 1.0]
alpha_trace_labels = ["0.4", "0.6", "0.8", "1.0"]
beta0_trace_ticks = [-1, 0, 1]
beta0_trace_labels = ["\u22121", "0", "1"]
beta1_trace_ticks = [0.0, 0.2, 0.4]
beta1_trace_labels = ["0.0", "0.2", "0.4"]
tau_trace_ticks = [1, 2, 3]
tau_trace_labels = ["1", "2", "3"]

# ------------------------------------------------------------- styling ----
FONT = "DejaVu Sans"
TEXT_COLOR = "#262626"
PANEL_BG = "#eeeeee"
TICK_FONT_SIZE = "27px"
TITLE_FONT_SIZE = "31px"
RUG_HEIGHT = 84          # screen px, half of it shows above the axis floor


def padded(lo, hi, frac=0.05):
    span = hi - lo
    return lo - frac * span, hi + frac * span


def style_axis(axis, ticks, labels, standoff):
    axis.ticker = FixedTicker(ticks=ticks)
    axis.major_label_overrides = dict(zip(ticks, labels))
    axis.axis_line_color = None
    axis.major_tick_line_color = None
    axis.minor_tick_line_color = None
    axis.major_tick_in = 0
    axis.major_tick_out = 0
    axis.minor_tick_in = 0
    axis.minor_tick_out = 0
    axis.major_label_standoff = standoff
    axis.major_label_text_font = FONT
    axis.major_label_text_font_size = TICK_FONT_SIZE
    axis.major_label_text_color = TEXT_COLOR


def add_title(p, text, gap):
    p.add_layout(Title(text=text, align="center", text_font=FONT,
                       text_font_size=TITLE_FONT_SIZE, text_font_style="normal",
                       text_color=TEXT_COLOR, text_line_height=0.97,
                       standoff=gap), "above")


def base_figure(frame_w, left, right, top, bottom, x_rng, y_rng, y_axis):
    p = figure(frame_width=frame_w, frame_height=281,
               min_border_left=left, min_border_right=right,
               min_border_top=top, min_border_bottom=bottom,
               x_range=x_rng, y_range=y_rng, title=None,
               y_axis_location=y_axis, toolbar_location=None,
               output_backend="svg")
    p.background_fill_color = PANEL_BG
    p.border_fill_color = "white"
    p.outline_line_color = None
    p.xgrid.grid_line_color = "white"
    p.xgrid.grid_line_width = 2
    p.xgrid.minor_grid_line_color = None
    return p


def kde_panel(xs, ds, divergent, ticks, labels, title, gap, top, bottom):
    all_x = np.concatenate([np.asarray(v, float) for v in xs])
    all_d = np.concatenate([np.asarray(v, float) for v in ds])
    x0, x1 = padded(all_x.min(), all_x.max())
    y0, y1 = padded(all_d.min(), all_d.max())
    p = base_figure(1144, 20, 16, top, bottom, Range1d(x0, x1), Range1d(y0, y1), None)
    p.ygrid.grid_line_color = None
    p.xgrid.ticker = FixedTicker(ticks=ticks)
    style_axis(p.xaxis[0], ticks, labels, 7)
    for x, d, c in zip(xs, ds, chain_colors):
        p.line(x, d, line_color=c, line_width=2.6)
    p.rect(x=divergent, y=[y0] * len(divergent), width=3, height=RUG_HEIGHT,
           width_units="screen", height_units="screen",
           fill_color="black", fill_alpha=0.35, line_color=None)
    add_title(p, title, gap)
    return p


def trace_panel(chains, yticks, ylabels, title, gap, top, bottom):
    all_v = np.concatenate([np.asarray(v, float) for v in chains])
    y0, y1 = padded(all_v.min(), all_v.max())
    p = base_figure(1143, 80, 20, top, bottom, Range1d(0, n_draws - 1), Range1d(y0, y1), "left")
    p.xgrid.ticker = FixedTicker(ticks=draw_ticks)
    p.ygrid.ticker = FixedTicker(ticks=yticks)
    p.ygrid.grid_line_color = "white"
    p.ygrid.grid_line_width = 2
    style_axis(p.xaxis[0], draw_ticks, draw_labels, 7)
    style_axis(p.yaxis[0], yticks, ylabels, 12)
    for vals, c in zip(chains, chain_colors):
        draws = np.linspace(0, n_draws - 1, len(vals))
        p.line(draws, vals, line_color=c, line_alpha=0.38, line_width=2.4)
    p.rect(x=divergent_draws, y=[y0] * len(divergent_draws), width=4, height=RUG_HEIGHT,
           width_units="screen", height_units="screen",
           fill_color="black", fill_alpha=0.35, line_color=None)
    add_title(p, title, gap)
    return p


# per row: KDE data, trace data, panel title, title standoff, top/bottom border
rows = [
    (alpha_kde_x, alpha_kde_d, alpha_divergent, alpha_kde_ticks, alpha_kde_labels,
     alpha_trace, alpha_trace_ticks, alpha_trace_labels, "alpha", 9, 60, 44),
    (beta0_kde_x, beta0_kde_d, beta0_divergent, beta0_kde_ticks, beta0_kde_labels,
     beta0_trace, beta0_trace_ticks, beta0_trace_labels, "beta\n0, 0", 5, 95, 44),
    (beta1_kde_x, beta1_kde_d, beta1_divergent, beta1_kde_ticks, beta1_kde_labels,
     beta1_trace, beta1_trace_ticks, beta1_trace_labels, "beta\n1, 0", 5, 95, 44),
    (tau_kde_x, tau_kde_d, tau_divergent, tau_kde_ticks, tau_kde_labels,
     tau_trace, tau_trace_ticks, tau_trace_labels, "tau", 8, 59, 58),
]

grid = []
for (kx, kd, kdiv, kt, kl, tr, tt, tl, title, gap, top, bottom) in rows:
    grid.append([
        kde_panel(kx, kd, kdiv, kt, kl, title, gap, top, bottom),
        trace_panel(tr, tt, tl, title, gap, top, bottom),
    ])

layout = gridplot(grid, toolbar_location=None)

open("out.html", "w").write(file_html(layout, INLINE))
